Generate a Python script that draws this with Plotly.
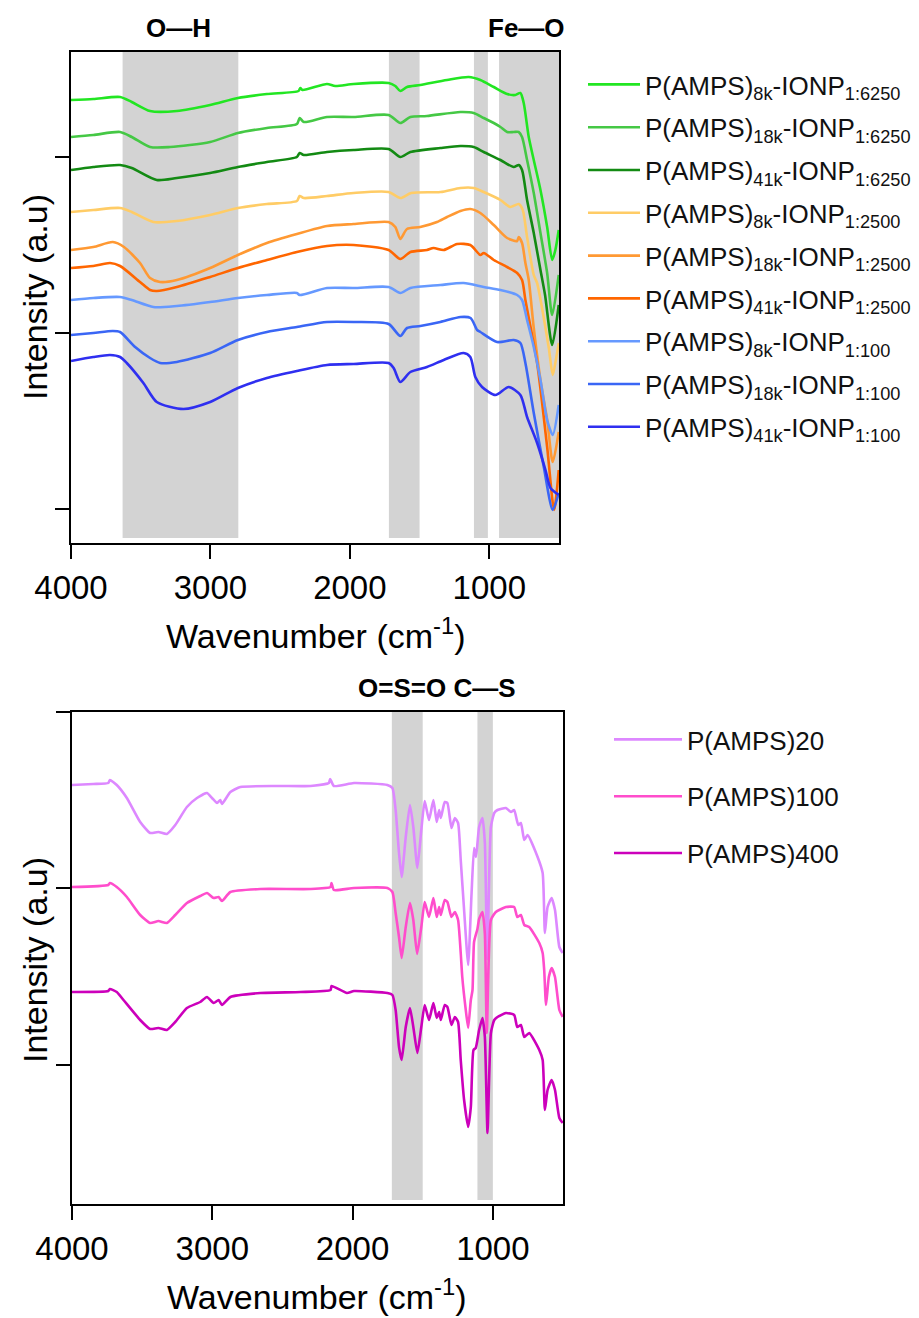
import plotly.graph_objects as go

# ---------------- Top panel data (wavenumber cm-1, intensity a.u.) ----------------
wn_g1 = [4000, 3840, 3648, 3564, 3433, 3241, 3002, 2803, 2595, 2368, 2355, 2340, 2164, 2105, 1973, 1722, 1674, 1638, 1590, 1495, 1303, 1148, 1064, 968, 872, 813, 777, 753, 717, 681, 633, 585, 549, 526, 502]
int_g1 = [443, 444, 446, 441, 432, 432, 438, 445, 449, 452, 455, 453, 459, 457, 459, 460, 457, 452, 456, 458, 463, 466, 463, 456, 449, 448, 450, 440, 406, 383, 353, 316, 283, 293, 313]

wn_g2 = [4000, 3840, 3648, 3564, 3433, 3290, 3002, 2803, 2595, 2380, 2360, 2330, 2164, 1973, 1722, 1638, 1566, 1447, 1207, 1112, 1040, 968, 920, 872, 825, 789, 765, 729, 681, 633, 585, 549, 502]
int_g2 = [406, 408, 411, 406, 396, 396, 401, 410, 415, 419, 425, 421, 426, 426, 428, 420, 426, 427, 431, 430, 425, 420, 416, 411, 411, 411, 406, 383, 350, 310, 270, 228, 268]

wn_g3 = [4000, 3840, 3648, 3564, 3385, 3241, 3002, 2803, 2595, 2380, 2360, 2330, 2164, 1973, 1722, 1638, 1566, 1350, 1207, 1112, 1040, 920, 825, 789, 765, 729, 681, 633, 600, 549, 502]
int_g3 = [373, 376, 378, 375, 363, 365, 370, 376, 381, 386, 390, 388, 391, 393, 394, 386, 391, 395, 397, 396, 391, 383, 376, 378, 373, 343, 310, 273, 248, 198, 238]

wn_o1 = [4000, 3840, 3648, 3564, 3409, 3241, 3002, 2803, 2595, 2380, 2360, 2330, 2164, 1973, 1722, 1638, 1560, 1350, 1207, 1112, 1040, 920, 850, 789, 760, 729, 681, 657, 609, 573, 545, 520, 502]
int_o1 = [331, 333, 335, 331, 321, 322, 328, 335, 339, 342, 347, 345, 347, 350, 351, 345, 350, 351, 355, 355, 351, 343, 336, 339, 333, 306, 268, 260, 225, 195, 168, 185, 200]

wn_o2 = [4000, 3840, 3700, 3620, 3505, 3433, 3361, 3241, 3002, 2803, 2595, 2380, 2164, 1973, 1722, 1674, 1638, 1590, 1495, 1375, 1303, 1207, 1136, 1064, 968, 872, 800, 789, 765, 741, 717, 681, 633, 585, 545, 502]
int_o2 = [293, 296, 301, 296, 280, 265, 261, 263, 275, 288, 300, 309, 317, 319, 321, 316, 304, 314, 316, 321, 326, 332, 334, 330, 318, 305, 302, 306, 300, 280, 263, 215, 163, 123, 81, 111]

wn_o3 = [4000, 3840, 3720, 3648, 3505, 3433, 3385, 3241, 3002, 2803, 2595, 2380, 2164, 1973, 1722, 1638, 1566, 1447, 1400, 1327, 1231, 1136, 1064, 1040, 968, 872, 800, 765, 741, 657, 585, 535, 502]
int_o3 = [275, 277, 280, 277, 261, 253, 252, 256, 266, 275, 283, 291, 297, 298, 293, 284, 291, 293, 295, 293, 299, 298, 288, 290, 283, 276, 270, 263, 243, 180, 96, 33, 73]

wn_b1 = [4000, 3840, 3648, 3564, 3409, 3241, 3002, 2803, 2595, 2380, 2360, 2164, 1973, 1722, 1638, 1566, 1351, 1184, 1040, 920, 800, 765, 729, 681, 633, 585, 545, 502]
int_b1 = [243, 245, 246, 243, 236, 237, 241, 245, 248, 250, 248, 255, 255, 256, 250, 255, 258, 260, 256, 253, 248, 243, 223, 196, 163, 123, 108, 138]

wn_b2 = [4000, 3840, 3700, 3648, 3540, 3433, 3361, 3241, 3002, 2803, 2595, 2380, 2164, 1973, 1722, 1638, 1590, 1495, 1351, 1206, 1134, 1087, 1064, 944, 825, 777, 741, 681, 609, 545, 502]
int_b2 = [208, 210, 212, 211, 196, 185, 180, 181, 190, 203, 211, 216, 221, 221, 219, 207, 215, 217, 221, 226, 225, 213, 211, 201, 203, 200, 180, 130, 76, 33, 50]

wn_b3 = [4000, 3840, 3720, 3648, 3600, 3481, 3385, 3194, 3002, 2803, 2595, 2380, 2164, 1973, 1722, 1686, 1638, 1566, 1447, 1327, 1184, 1136, 1100, 1052, 956, 861, 777, 729, 657, 597, 561, 502]
int_b3 = [182, 186, 188, 186, 180, 160, 141, 134, 141, 155, 165, 172, 178, 179, 180, 175, 161, 171, 176, 183, 190, 186, 166, 156, 148, 156, 148, 126, 100, 73, 55, 48]

top_names = [
    "P(AMPS)<sub>8k</sub>-IONP<sub>1:6250</sub>",
    "P(AMPS)<sub>18k</sub>-IONP<sub>1:6250</sub>",
    "P(AMPS)<sub>41k</sub>-IONP<sub>1:6250</sub>",
    "P(AMPS)<sub>8k</sub>-IONP<sub>1:2500</sub>",
    "P(AMPS)<sub>18k</sub>-IONP<sub>1:2500</sub>",
    "P(AMPS)<sub>41k</sub>-IONP<sub>1:2500</sub>",
    "P(AMPS)<sub>8k</sub>-IONP<sub>1:100</sub>",
    "P(AMPS)<sub>18k</sub>-IONP<sub>1:100</sub>",
    "P(AMPS)<sub>41k</sub>-IONP<sub>1:100</sub>",
]
top_colors = ["#22e622", "#45c845", "#138a13", "#ffcc66", "#ff9933", "#ff6600", "#6699ff", "#3a66f5", "#2f2ff0"]

# ---------------- Bottom panel data ----------------
wn_p20 = [4000, 3848, 3741, 3730, 3681, 3609, 3514, 3443, 3384, 3324, 3264, 3181, 3109, 3038, 3002, 2966, 2943, 2931, 2871, 2800, 2538, 2300, 2169, 2160, 2133, 1990, 1752, 1716, 1693, 1669, 1650, 1621, 1591, 1567, 1538, 1510, 1486, 1455, 1424, 1400, 1383, 1371, 1343, 1324, 1295, 1271, 1248, 1229, 1205, 1176, 1152, 1134, 1120, 1098, 1074, 1057, 1040, 1014, 990, 967, 907, 871, 848, 819, 800, 776, 752, 681, 645, 629, 610, 581, 557, 526, 502]
int_p20 = [419, 420, 421, 424, 419, 406, 382, 371, 372, 370, 379, 397, 406, 411, 406, 401, 404, 400, 412, 417, 418, 418, 421, 425, 418, 421, 419, 416, 394, 351, 327, 367, 399, 377, 336, 374, 403, 384, 404, 382, 394, 386, 402, 401, 376, 386, 381, 344, 294, 239, 310, 356, 347, 377, 386, 361, 245, 377, 391, 394, 396, 392, 394, 379, 381, 364, 369, 347, 331, 271, 297, 306, 294, 257, 251]

wn_p100 = [4000, 3741, 3730, 3681, 3609, 3514, 3443, 3384, 3324, 3264, 3181, 3086, 3038, 2990, 2955, 2931, 2871, 2657, 2300, 2157, 2150, 2133, 1990, 1752, 1716, 1693, 1669, 1650, 1621, 1591, 1567, 1540, 1510, 1486, 1455, 1424, 1400, 1383, 1371, 1343, 1324, 1295, 1271, 1248, 1229, 1218, 1193, 1176, 1157, 1145, 1134, 1110, 1098, 1074, 1057, 1043, 1014, 979, 907, 848, 826, 800, 776, 741, 669, 645, 634, 621, 601, 581, 557, 526, 502]
int_p100 = [317, 319, 321, 317, 307, 289, 281, 283, 281, 289, 301, 308, 311, 306, 307, 303, 312, 315, 315, 317, 321, 314, 316, 316, 312, 291, 267, 246, 277, 301, 284, 250, 277, 302, 287, 306, 287, 297, 289, 304, 302, 287, 292, 284, 251, 227, 194, 176, 204, 214, 262, 275, 285, 292, 270, 171, 284, 292, 297, 297, 287, 289, 279, 277, 261, 251, 234, 199, 227, 236, 227, 194, 187]

wn_p400 = [4000, 3741, 3730, 3681, 3633, 3514, 3443, 3384, 3324, 3264, 3181, 3086, 3038, 2990, 2955, 2931, 2871, 2657, 2371, 2157, 2150, 2040, 1990, 1752, 1716, 1693, 1669, 1650, 1621, 1591, 1567, 1538, 1510, 1486, 1455, 1424, 1400, 1383, 1371, 1343, 1324, 1295, 1271, 1248, 1229, 1205, 1176, 1157, 1138, 1122, 1098, 1074, 1057, 1038, 1014, 990, 967, 907, 848, 826, 800, 776, 741, 669, 645, 629, 610, 581, 557, 526, 502]
int_p400 = [212, 213, 215, 212, 204, 184, 175, 176, 174, 182, 196, 202, 207, 201, 204, 199, 207, 211, 212, 214, 218, 211, 213, 211, 209, 194, 157, 144, 177, 196, 177, 151, 177, 199, 184, 201, 186, 192, 184, 199, 197, 179, 187, 182, 144, 104, 77, 97, 154, 156, 174, 186, 167, 71, 171, 184, 187, 191, 189, 177, 179, 167, 171, 154, 144, 94, 114, 124, 114, 86, 81]

bottom_names = ["P(AMPS)20", "P(AMPS)100", "P(AMPS)400"]
bottom_colors = ["#dd88ff", "#ff4dcc", "#cc00bb"]

# Shaded band ranges (cm-1)
top_bands = [(3630, 2800), (1720, 1500), (1110, 1010), (930, 500)]
bottom_bands = [(1720, 1500), (1110, 1000)]

x_ticks = [4000, 3000, 2000, 1000]
top_yticks = [34, 210, 386]
bottom_yticks = [139, 316, 492]

W, H = 919, 1318
FONT = "Liberation Sans, Arial, sans-serif"

fig = go.Figure()

top_series = [(wn_g1, int_g1), (wn_g2, int_g2), (wn_g3, int_g3), (wn_o1, int_o1), (wn_o2, int_o2),
              (wn_o3, int_o3), (wn_b1, int_b1), (wn_b2, int_b2), (wn_b3, int_b3)]
for i, ((xs, ys), name, col) in enumerate(zip(top_series, top_names, top_colors)):
    fig.add_trace(go.Scatter(x=xs, y=ys, mode="lines", name=name,
                             line=dict(color=col, width=2.6, shape="spline", smoothing=0.7),
                             xaxis="x", yaxis="y", legend="legend", legendgroup="t%d" % i))

bottom_series = [(wn_p20, int_p20), (wn_p100, int_p100), (wn_p400, int_p400)]
for i, ((xs, ys), name, col) in enumerate(zip(bottom_series, bottom_names, bottom_colors)):
    fig.add_trace(go.Scatter(x=xs, y=ys, mode="lines", name=name,
                             line=dict(color=col, width=2.6, shape="spline", smoothing=0.5),
                             xaxis="x2", yaxis="y2", legend="legend2", legendgroup="b%d" % i))

shapes = []
for a, b in top_bands:
    shapes.append(dict(type="rect", xref="x", yref="y domain", x0=a, x1=b, y0=0.01, y1=1,
                       fillcolor="#d3d3d3", line=dict(width=0), layer="below"))
for a, b in bottom_bands:
    shapes.append(dict(type="rect", xref="x2", yref="y2 domain", x0=a, x1=b, y0=0.008, y1=1,
                       fillcolor="#d3d3d3", line=dict(width=0), layer="below"))

axis_common = dict(showline=True, mirror=True, linecolor="black", linewidth=2, showgrid=False,
                   zeroline=False, ticks="outside", ticklen=14, tickwidth=2, tickcolor="black",
                   automargin=False)

xa = dict(axis_common, range=[4000, 500], tickvals=x_ticks, tickfont=dict(size=33, color="black", family=FONT))
ya = dict(axis_common, showticklabels=False)

TITLE_SIZE = 34
annotations = [
    dict(text="<b>O—H</b>", x=178 / W, y=1 - 28 / H, xref="paper", yref="paper", showarrow=False,
         font=dict(size=26, color="black", family=FONT), xanchor="center", yanchor="middle"),
    dict(text="<b>Fe—O</b>", x=526 / W, y=1 - 28 / H, xref="paper", yref="paper", showarrow=False,
         font=dict(size=26, color="black", family=FONT), xanchor="center", yanchor="middle"),
    dict(text="<b>O=S=O C—S</b>", x=437 / W, y=1 - 688 / H, xref="paper", yref="paper", showarrow=False,
         font=dict(size=26, color="black", family=FONT), xanchor="center", yanchor="middle"),
    dict(text="Intensity (a.u)", x=35 / W, y=1 - 297 / H, xref="paper", yref="paper", showarrow=False,
         textangle=-90, font=dict(size=TITLE_SIZE, color="black", family=FONT), xanchor="center", yanchor="middle"),
    dict(text="Intensity (a.u)", x=35 / W, y=1 - 960 / H, xref="paper", yref="paper", showarrow=False,
         textangle=-90, font=dict(size=TITLE_SIZE, color="black", family=FONT), xanchor="center", yanchor="middle"),
    dict(text="Wavenumber (cm<sup>-1</sup>)", x=316 / W, y=1 - 633 / H, xref="paper", yref="paper",
         showarrow=False, font=dict(size=TITLE_SIZE, color="black", family=FONT), xanchor="center", yanchor="middle"),
    dict(text="Wavenumber (cm<sup>-1</sup>)", x=317 / W, y=1 - 1294 / H, xref="paper", yref="paper",
         showarrow=False, font=dict(size=TITLE_SIZE, color="black", family=FONT), xanchor="center", yanchor="middle"),
]

fig.update_layout(
    width=W, height=H, margin=dict(l=0, r=0, t=0, b=0, autoexpand=False),
    paper_bgcolor="white", plot_bgcolor="white",
    font=dict(family=FONT, color="black"),
    xaxis=dict(xa, domain=[71 / W, 559 / W], anchor="y"),
    yaxis=dict(ya, domain=[1 - 543 / H, 1 - 52 / H], range=[0, 491], tickvals=top_yticks, anchor="x"),
    xaxis2=dict(xa, domain=[72 / W, 563 / W], anchor="y2"),
    yaxis2=dict(ya, domain=[1 - 1204 / H, 1 - 712 / H], range=[0, 492], tickvals=bottom_yticks, anchor="x2"),
    shapes=shapes,
    annotations=annotations,
    legend=dict(x=583 / W, y=1 - 61 / H, xanchor="left", yanchor="top", bgcolor="rgba(0,0,0,0)",
                font=dict(size=26, color="#111", family=FONT), tracegroupgap=6, itemwidth=52),
    legend2=dict(x=609 / W, y=1 - 716 / H, xanchor="left", yanchor="top", bgcolor="rgba(0,0,0,0)",
                 font=dict(size=26, color="#111", family=FONT), tracegroupgap=20, itemwidth=68),
    showlegend=True,
)

fig.write_html("out.html")
